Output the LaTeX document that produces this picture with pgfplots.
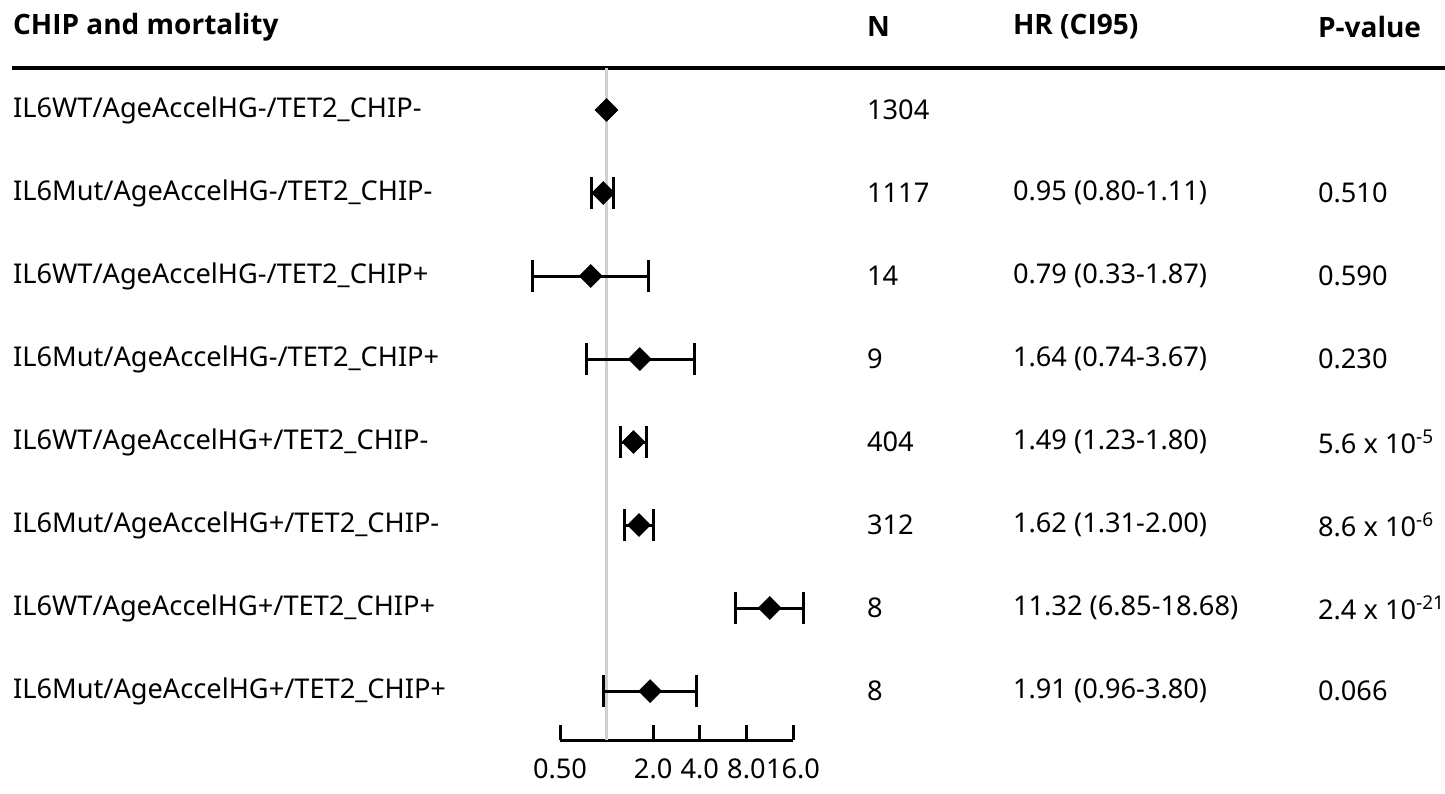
\documentclass[border=0pt]{standalone}
\usepackage{pgfplots}
\pgfplotsset{compat=1.18}
\usepackage{fontspec}
\setmainfont{Noto Sans}
\newfontfamily\hdrfont{Open Sans}
\definecolor{refgray}{HTML}{D0D0D0}
\newcommand\fs{\fontsize{13.6pt}{15pt}\selectfont}
\newcommand\hfs{\hdrfont\fontsize{14pt}{15pt}\selectfont\bfseries}
\begin{document}
\begin{tikzpicture}[font=\fs]
\begin{scope}[x=0.5pt,y=-0.5pt]
\useasboundingbox (0,0) rectangle (1445,793);
% header
\node[anchor=west,font=\hfs] at (6,27) {CHIP and mortality};
\node[anchor=west,font=\hfs] at (860,27) {N};
\node[anchor=west,font=\hfs] at (1006,27) {HR (CI95)};
\node[anchor=west,font=\hfs] at (1311,27) {P-value};
\draw[line width=2pt] (12,68) -- (1445,68);
% rows
\foreach \lab/\n/\hr/\p [count=\i from 0] in {
 {IL6WT/AgeAccelHG-/TET2\_CHIP-}/1304/{}/{},
 {IL6Mut/AgeAccelHG-/TET2\_CHIP-}/1117/{0.95 (0.80-1.11)}/{0.510},
 {IL6WT/AgeAccelHG-/TET2\_CHIP+}/14/{0.79 (0.33-1.87)}/{0.590},
 {IL6Mut/AgeAccelHG-/TET2\_CHIP+}/9/{1.64 (0.74-3.67)}/{0.230},
 {IL6WT/AgeAccelHG+/TET2\_CHIP-}/404/{1.49 (1.23-1.80)}/{5.6 x 10\textsuperscript{-5}},
 {IL6Mut/AgeAccelHG+/TET2\_CHIP-}/312/{1.62 (1.31-2.00)}/{8.6 x 10\textsuperscript{-6}},
 {IL6WT/AgeAccelHG+/TET2\_CHIP+}/8/{11.32 (6.85-18.68)}/{2.4 x 10\textsuperscript{-21}},
 {IL6Mut/AgeAccelHG+/TET2\_CHIP+}/8/{1.91 (0.96-3.80)}/{0.066}}{
 \pgfmathsetmacro\yy{110+83*\i}
 \node[anchor=west] at (6,\yy) {\lab};
 \node[anchor=west] at (860,\yy) {\n};
 \node[anchor=west] at (1006,\yy) {\hr};
 \node[anchor=west] at (1311,\yy) {\p};
}
\end{scope}
\begin{axis}[at={(280pt,-370pt)}, anchor=south west, scale only axis,
  width=116.5pt, height=336pt,
  xmode=log, log basis x=2, xmin=0.5, xmax=16,
  ymin=-8.59, ymax=-0.494,
  axis x line*=bottom, axis y line=none,
  x axis line style={line width=1.5pt},
  xtick={0.5,1,2,4,8,16}, xticklabels={0.50,,2.0,4.0,8.0,16.0},
  xticklabel style={yshift=-6pt, font=\fs},
  tick align=inside, major tick length=7.5pt,
  tick style={line width=1.5pt, black},
  clip=false]
\addplot[refgray, line width=1.5pt] coordinates {(1,-0.494) (1,-8.59)};
\pgfplotsset{ci/.style={black, line width=1.5pt, mark=|, mark size=8pt, mark options={solid, line width=1.5pt}}}
\addplot[ci] coordinates {(0.80,-2) (1.11,-2)};
\addplot[ci] coordinates {(0.33,-3) (1.87,-3)};
\addplot[ci] coordinates {(0.74,-4) (3.67,-4)};
\addplot[ci] coordinates {(1.23,-5) (1.80,-5)};
\addplot[ci] coordinates {(1.31,-6) (2.00,-6)};
\addplot[ci] coordinates {(6.85,-7) (18.68,-7)};
\addplot[ci] coordinates {(0.96,-8) (3.80,-8)};
\addplot[only marks, mark=square*, mark size=4pt, mark options={rotate=45, black}]
  coordinates {(1,-1) (0.95,-2) (0.79,-3) (1.64,-4) (1.49,-5) (1.62,-6) (11.32,-7) (1.91,-8)};
\end{axis}
\end{tikzpicture}
\end{document}
